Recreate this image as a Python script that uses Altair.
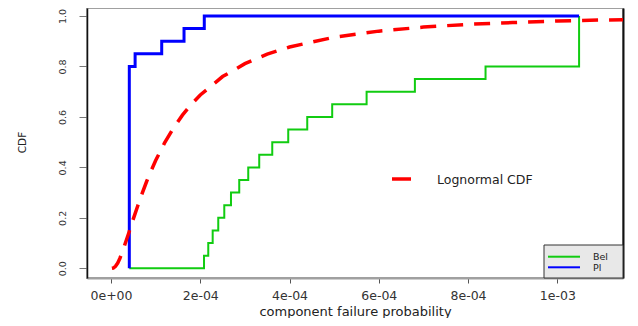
import altair as alt
import pandas as pd

# ---------------- data ----------------
x_ticks = [0.0, 0.0002, 0.0004, 0.0006, 0.0008, 0.001]
x_tick_labels = ["0e+00", "2e-04", "4e-04", "6e-04", "8e-04", "1e-03"]
y_ticks = [0.0, 0.2, 0.4, 0.6, 0.8, 1.0]
y_tick_labels = ["0.0", "0.2", "0.4", "0.6", "0.8", "1.0"]

# Bel (lower bound) step function
bel_x = [4.1e-5, 2.084e-4, 2.179e-4, 2.278e-4, 2.403e-4, 2.538e-4, 2.688e-4,
         2.873e-4, 3.075e-4, 3.321e-4, 3.613e-4, 3.971e-4, 4.397e-4,
         4.956e-4, 5.727e-4, 6.809e-4, 8.392e-4, 1.0488e-3]
bel_y = [0.0, 0.05, 0.10, 0.15, 0.20, 0.25, 0.30, 0.35, 0.40, 0.45, 0.50,
         0.55, 0.60, 0.65, 0.70, 0.75, 0.80, 1.0]

# Pl (upper bound) step function
pl_x = [4.1e-5, 4.1e-5, 5.4e-5, 1.136e-4, 1.636e-4, 2.09e-4, 1.0488e-3]
pl_y = [0.0, 0.80, 0.85, 0.90, 0.95, 1.0, 1.0]

# Lognormal CDF (dashed red curve)
logn_x = [2e-6, 5e-6, 1e-5, 1.5e-5, 2e-5, 3e-5, 4e-5, 5e-5, 6e-5, 7e-5, 8e-5,
          9e-5, 1e-4, 1.2e-4, 1.4e-4, 1.6e-4, 1.8e-4, 2e-4, 2.5e-4, 3e-4,
          3.5e-4, 4e-4, 5e-4, 6e-4, 7e-4, 8e-4, 9e-4, 1e-3, 1.1e-3, 1.2e-3]
logn_y = [0.0, 0.001, 0.008, 0.021, 0.040, 0.089, 0.141, 0.196, 0.248, 0.298,
          0.345, 0.387, 0.427, 0.497, 0.556, 0.607, 0.650, 0.687, 0.760, 0.811,
          0.849, 0.877, 0.916, 0.940, 0.956, 0.967, 0.974, 0.980, 0.984, 0.987]

legend_labels = ["Bel", "Pl"]
curve_label = "Lognormal CDF"
x_title = "component failure probability"
y_title = "CDF"

# ---------------- chart ----------------
FONT = "DejaVu Sans"
W, H = 536, 270
X_DOMAIN = [-5.38e-5, 1.1472e-3]
Y_DOMAIN = [-0.0384, 1.0317]

bel_df = pd.DataFrame({"x": bel_x, "y": bel_y})
pl_df = pd.DataFrame({"x": pl_x, "y": pl_y})
logn_df = pd.DataFrame({"x": logn_x, "y": logn_y})

x_label_expr = "[" + ",".join("'%s'" % s for s in x_tick_labels) + "][round(datum.value/0.0002)]"
y_label_expr = "[" + ",".join("'%s'" % s for s in y_tick_labels) + "][round(datum.value/0.2)]"

x_axis = alt.Axis(
    values=x_ticks, labelExpr=x_label_expr, grid=False,
    domainColor="#a0a0a0", domainWidth=2, tickColor="#555", tickSize=5,
    labelFont=FONT, labelFontSize=12.5, labelColor="#333", labelPadding=6,
    labelFlush=False,
    title=x_title, titleFont=FONT, titleFontSize=13, titleFontWeight="normal",
    titleColor="#222", titleX=268, titleY=40, titleBaseline="bottom",
    titleAlign="center",
)
x_enc = alt.X("x:Q", scale=alt.Scale(domain=X_DOMAIN, nice=False, zero=False),
              axis=x_axis)

y_scale = alt.Scale(domain=Y_DOMAIN, nice=False, zero=False)
y_left = alt.Axis(
    values=y_ticks, labelExpr=y_label_expr, grid=False,
    domainColor="#111", domainWidth=1.5, tickColor="#777", tickSize=8,
    labelFont=FONT, labelFontSize=9.5, labelColor="#333", labelAngle=270,
    labelAlign="center", labelBaseline="bottom", labelPadding=12,
    labelFlush=False,
    title=y_title, titleFont=FONT, titleFontSize=10.5, titleFontWeight="normal",
    titleColor="#222", titleAngle=270, titleX=-65, titleY=134,
    titleAlign="center", titleBaseline="middle",
)
y_right = alt.Axis(orient="right", values=y_ticks, labels=False, ticks=False,
                   grid=False, domainColor="#111", domainWidth=2, title=None)

bel = alt.Chart(bel_df).mark_line(
    interpolate="step-after", color="#11cc11", strokeWidth=2, clip=True
).encode(x=x_enc, y=alt.Y("y:Q", scale=y_scale, axis=y_left))

pl = alt.Chart(pl_df).mark_line(
    interpolate="step-after", color="#0000ff", strokeWidth=3, clip=True
).encode(x=x_enc, y=alt.Y("y:Q", scale=y_scale, axis=y_right))

logn = alt.Chart(logn_df).mark_line(
    color="#ff0000", strokeWidth=3.5, strokeDash=[16, 11], clip=True
).encode(x=x_enc, y=alt.Y("y:Q", scale=y_scale, axis=None))

one = alt.Data(values=[{}])

# legend: Bel / Pl box (bottom right)
leg_box = alt.Chart(one).mark_rect(fill="#e8e8e8", stroke="#333", strokeWidth=1).encode(
    x=alt.value(457), x2=alt.value(536), y=alt.value(237), y2=alt.value(270))
leg_bel = alt.Chart(one).mark_rule(color="#11cc11", strokeWidth=2).encode(
    x=alt.value(461), x2=alt.value(493), y=alt.value(248.7), y2=alt.value(248.7))
leg_pl = alt.Chart(one).mark_rule(color="#0000ff", strokeWidth=2).encode(
    x=alt.value(461), x2=alt.value(493), y=alt.value(259.3), y2=alt.value(259.3))
leg_bel_t = alt.Chart(one).mark_text(
    align="left", baseline="middle", font=FONT, fontSize=9.5, color="#222"
).encode(x=alt.value(506), y=alt.value(249), text=alt.value(legend_labels[0]))
leg_pl_t = alt.Chart(one).mark_text(
    align="left", baseline="middle", font=FONT, fontSize=9.5, color="#222"
).encode(x=alt.value(506), y=alt.value(259.6), text=alt.value(legend_labels[1]))

# legend: Lognormal CDF
leg_ln = alt.Chart(one).mark_rule(color="#ff0000", strokeWidth=3.5).encode(
    x=alt.value(305), x2=alt.value(324), y=alt.value(171), y2=alt.value(171))
leg_ln_t = alt.Chart(one).mark_text(
    align="left", baseline="middle", font=FONT, fontSize=12.5, color="#222"
).encode(x=alt.value(350), y=alt.value(171.5), text=alt.value(curve_label))

chart = alt.layer(
    bel, pl, logn, leg_box, leg_bel, leg_pl, leg_bel_t, leg_pl_t, leg_ln, leg_ln_t
).resolve_axis(y="independent").properties(
    width=W, height=H,
    autosize=alt.AutoSizeParams(type="none"),
    padding={"left": 79, "top": 0, "right": 7, "bottom": 40},
    background="white",
).configure_view(stroke="#a0a0a0", strokeWidth=2)

chart.save("out.html", embed_options={"renderer": "svg", "actions": False})
